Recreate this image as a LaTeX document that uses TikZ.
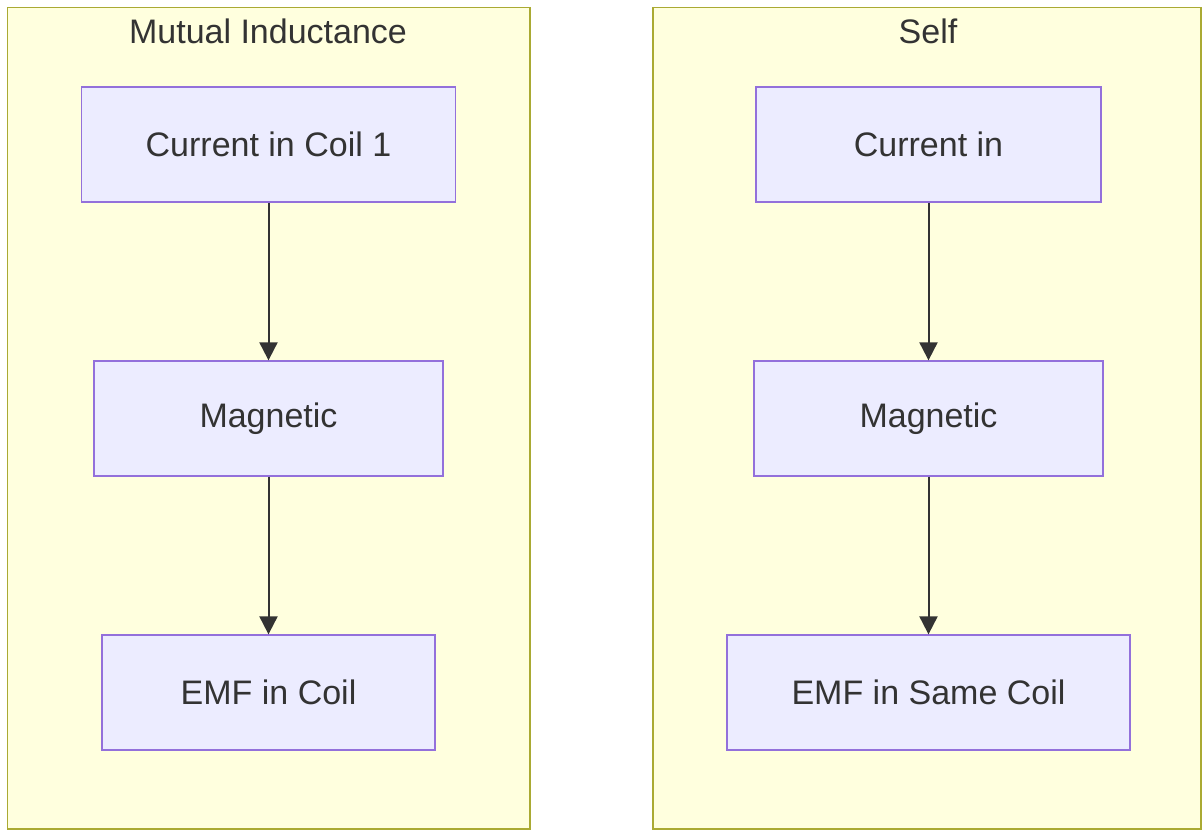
\documentclass[tikz,border=0pt]{standalone}
\usepackage{fontspec}
\setmainfont{Liberation Sans}
\usetikzlibrary{arrows.meta}

\definecolor{clusterfill}{HTML}{FFFFDE}
\definecolor{clusterdraw}{HTML}{AAAA33}
\definecolor{blockfill}{HTML}{ECECFF}
\definecolor{blockdraw}{HTML}{9370DB}
\definecolor{textgray}{HTML}{333333}

\tikzstyle{block}=[rectangle,
    line width=1.3pt,
    minimum height=115pt,
    inner sep=0pt,
    draw=blockdraw,
    fill=blockfill,
    text=textgray,
    font=\fontsize{34}{40}\selectfont]
\tikzstyle{cluster}=[line width=1.3pt, draw=clusterdraw, fill=clusterfill]
\tikzstyle{title}=[text=textgray, font=\fontsize{34}{40}\selectfont]
\tikzstyle{flow}=[draw=textgray, line width=2pt, -{Triangle[length=18pt,width=18pt]}]

\begin{document}
\begin{tikzpicture}[x=1pt, y=-1pt]
            \useasboundingbox (0,0) rectangle (1202,830);
            % the two groups
            \draw [cluster] (7.5,7.5) rectangle (530,829);
            \draw [cluster] (653,7.5) rectangle (1201,829);
            \node (mutualtitle) [title] at (268,31) {Mutual Inductance};
            \node (selftitle) [title] at (928,31) {Self};

            % mutual inductance
            \node (currentm) [block, minimum width=374pt] at (268.5,144.5) {Current in Coil 1};
            \node (magneticm) [block, minimum width=349pt] at (268.5,418.5) {Magnetic};
            \node (emfm) [block, minimum width=333pt] at (268.5,692.5) {EMF in Coil};

            % self inductance
            \node (currents) [block, minimum width=345pt] at (928.5,144.5) {Current in};
            \node (magnetics) [block, minimum width=349pt] at (928.5,418.5) {Magnetic};
            \node (emfs) [block, minimum width=403pt] at (928.5,692.5) {EMF in Same Coil};

            \draw [flow] (currentm) -- (magneticm);
            \draw [flow] (magneticm) -- (emfm);
            \draw [flow] (currents) -- (magnetics);
            \draw [flow] (magnetics) -- (emfs);

        \end{tikzpicture}
\end{document}
